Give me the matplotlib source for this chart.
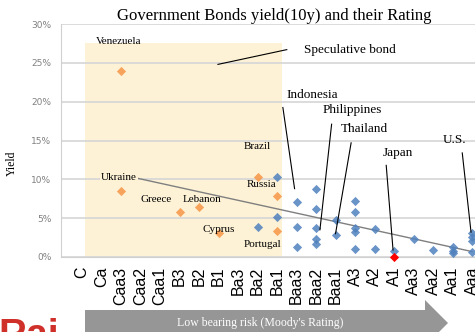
import matplotlib
matplotlib.use('Agg')
import matplotlib.pyplot as plt
from matplotlib.patches import Rectangle, Polygon

# Moody's rating scale, low (left) to high (right)
ratings = ['C', 'Ca', 'Caa3', 'Caa2', 'Caa1', 'B3', 'B2', 'B1', 'Ba3', 'Ba2', 'Ba1',
           'Baa3', 'Baa2', 'Baa1', 'A3', 'A2', 'A1', 'Aa3', 'Aa2', 'Aa1', 'Aaa']

# speculative (orange) countries: rating index, yield %
spec_x = [2, 2, 5, 6, 7, 9, 10, 10]
spec_y = [24.0, 8.5, 5.8, 6.5, 3.1, 10.3, 7.8, 3.4]

# other countries (blue)
inv_x = [9, 10, 10, 11, 11, 11, 12, 12, 12, 12, 12, 13, 13,
         14, 14, 14, 14, 14, 15, 15, 16, 17, 18, 19, 19, 19, 20, 20, 20, 20]
inv_y = [3.9, 10.3, 5.2, 7.1, 3.9, 1.3, 8.8, 6.2, 3.7, 2.3, 1.7, 4.8, 2.8,
         7.2, 5.8, 3.7, 3.2, 1.0, 3.6, 1.0, 0.8, 2.3, 0.9, 1.3, 0.8, 0.5, 3.1, 2.6, 2.0, 0.7]

# Japan highlighted
red_x = [16]
red_y = [0.05]

# linear trend (end points)
trend_x = [2, 20]
trend_y = [10.6, 0.7]

serif = 'Liberation Serif'

fig = plt.figure(figsize=(4.75, 3.32), dpi=100)
W, H = 475.0, 332.0
x0, x1 = -1.08, 21.0
left = 61 / W
width = (82 + 19.5 * x1 - 61) / W
ax = fig.add_axes([left, 75 / H, width, 233 / H])
ax.set_xlim(x0, x1)
ax.set_ylim(0, 30)

# speculative area
ax.add_patch(Rectangle((0.15, 0), 10.1, 27.5, facecolor='#fdf2d6', edgecolor='none', zorder=0.5))

ax.set_yticks(range(0, 31, 5))
ax.set_yticklabels([f'{v}%' for v in range(0, 31, 5)], fontsize=6.5, color='#808080')
ax.yaxis.grid(True, color='#d6d6d6', linewidth=1.2, zorder=1)
ax.set_axisbelow(True)
ax.set_xticks(range(len(ratings)))
ax.set_xticklabels(ratings, rotation=90, fontsize=11.5, family='Liberation Sans')
ax.tick_params(axis='both', length=0)
ax.tick_params(axis='x', pad=7)
ax.tick_params(axis='y', pad=7)
for s in ['top', 'right']:
    ax.spines[s].set_visible(False)
ax.spines['left'].set_color('#d0d0d0')
ax.spines['bottom'].set_color('#d0d0d0')

ax.plot(trend_x, trend_y, color='#7f7f7f', linewidth=1, zorder=2)
ax.scatter(spec_x, spec_y, marker='D', s=22, color='#f79646', alpha=0.85, zorder=3, linewidths=0)
ax.scatter(inv_x, inv_y, marker='D', s=22, color='#4f81bd', alpha=0.85, zorder=3, linewidths=0)
ax.scatter(red_x, red_y, marker='D', s=22, color='#ff0000', zorder=4, linewidths=0, clip_on=False)

ax.set_ylabel('Yield', fontsize=8.5, family=serif)
ax.yaxis.set_label_coords(-0.1, 0.4)

fig.text(274 / W, 1 - 16 / H, 'Government Bonds yield(10y) and their Rating',
         ha='center', va='center', fontsize=12, family=serif)

small = dict(fontsize=8, family=serif, ha='center', va='center', zorder=5)
big = dict(fontsize=9.5, family=serif, ha='center', va='center', zorder=5)

ax.text(1.9, 27.8, 'Venezuela', **small)
ax.text(1.9, 10.3, 'Ukraine', bbox=dict(facecolor='#fdf2d6', edgecolor='none', pad=0.5), **small)
ax.text(3.8, 7.4, 'Greece', **small)
ax.text(6.15, 7.4, 'Lebanon', **small)
ax.text(7.0, 3.5, 'Cyprus', **small)
ax.text(9.0, 14.2, 'Brazil', **small)
ax.text(9.2, 9.3, 'Russia', **small)
ax.text(9.25, 1.55, 'Portugal', **small)

ax.plot([6.97, 10.5], [24.8, 26.7], color='black', linewidth=0.8, zorder=5)
ax.text(11.4, 26.7, 'Speculative bond', fontsize=9.5, family=serif, ha='left', va='center')

notes = [('Indonesia', 11.8, 20.8, 10.3, 19.25, 10.9, 8.8),
         ('Philippines', 13.85, 18.9, 12.8, 17.1, 12.2, 3.5),
         ('Thailand', 14.5, 16.5, 13.8, 14.7, 13.0, 3.0),
         ('Japan', 16.2, 13.4, 15.6, 11.8, 15.95, 0.9),
         ('U.S.', 19.1, 15.1, 19.5, 13.4, 19.95, 3.2)]
for name, tx, ty, ax0, ay0, ax1, ay1 in notes:
    ax.text(tx, ty, name, **big)
    ax.plot([ax0, ax1], [ay0, ay1], color='black', linewidth=0.8, zorder=5)

# arrow under the axis
arrow = Polygon([(85 / W, 1 - 310 / H), (425 / W, 1 - 310 / H), (425 / W, 1 - 300 / H),
                 (448 / W, 1 - 323 / H), (425 / W, 1 - 346 / H), (425 / W, 1 - 336 / H),
                 (85 / W, 1 - 336 / H)], closed=True, transform=fig.transFigure,
                facecolor='#969696', edgecolor='none')
fig.add_artist(arrow)
fig.text(260 / W, 1 - 323 / H, "Low bearing risk (Moody's Rating)", color='white',
         ha='center', va='center', fontsize=8.5, family=serif)

fig.text(-2 / W, 1 - 346 / H, 'Rai', color='#d0302a', fontsize=28, fontweight='bold',
         family='Liberation Sans', ha='left', va='baseline')

fig.savefig('out.png', dpi=100)
